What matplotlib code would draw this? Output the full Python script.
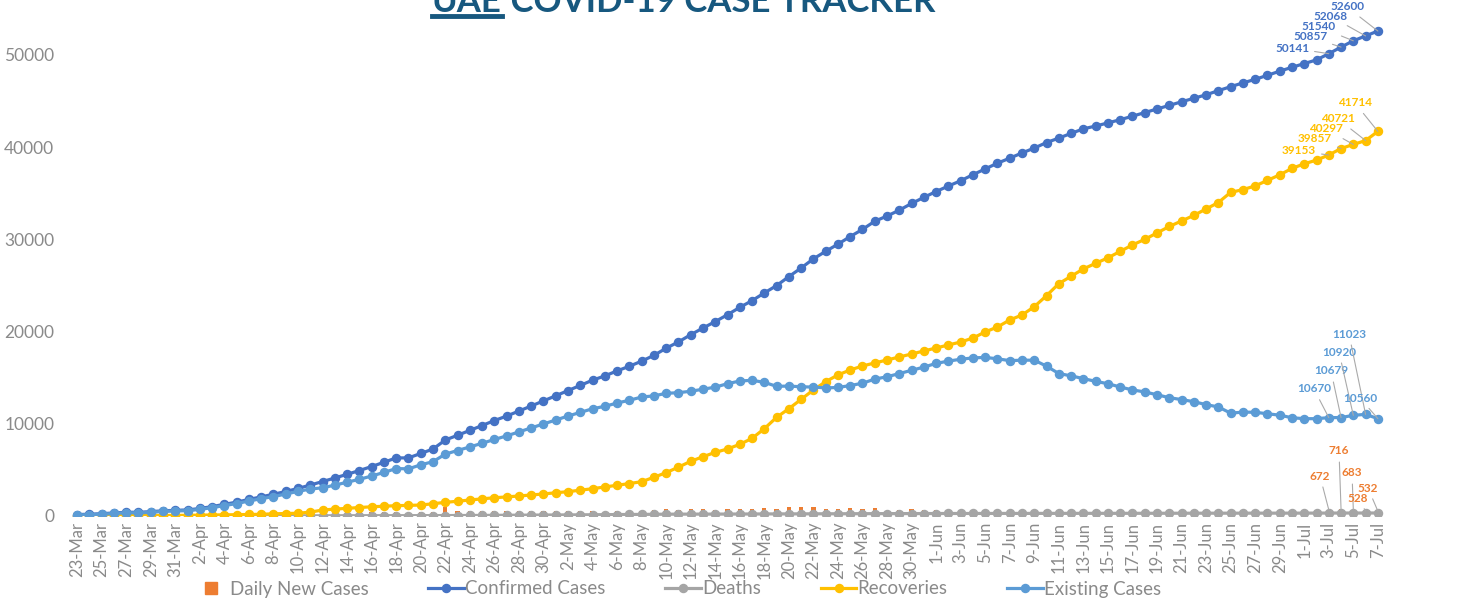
import numpy as np
import matplotlib
matplotlib.use("Agg")
import matplotlib.pyplot as plt
from matplotlib.lines import Line2D
from matplotlib.patches import Patch

plt.rcParams['font.family'] = ['Lato', 'DejaVu Sans']

# dates 23-Mar .. 7-Jul
months = ['Mar'] * 9 + ['Apr'] * 30 + ['May'] * 31 + ['Jun'] * 30 + ['Jul'] * 7
days = list(range(23, 32)) + list(range(1, 31)) + list(range(1, 32)) + list(range(1, 31)) + list(range(1, 8))
dates = [f"{d}-{m}" for d, m in zip(days, months)]

confirmed = [153, 198, 248, 333, 405, 405, 468, 570, 611,
             664, 814, 1024, 1264, 1505, 1799, 2076, 2359, 2659, 2990,
             3360, 3736, 4123, 4521, 4933, 5365, 5825, 6302, 6302, 6781,
             7265, 8238, 8756, 9281, 9813, 10349, 10839, 11380, 11929, 12481,
             13038, 13599, 14163, 14730, 15192, 15738, 16240, 16793, 17417, 18198,
             18878, 19661, 20386, 21084, 21831, 22627, 23358, 24190, 24990, 25963,
             26898, 27892, 28704, 29485, 30307, 31086, 31969, 32532, 33170, 33896, 34557,
             35192, 35788, 36359, 37018, 37642, 38268, 38808, 39376, 39904, 40507,
             40986, 41499, 41990, 42294, 42636, 42982, 43364, 43752, 44145, 44533,
             44925, 45303, 45683, 46133, 46563, 46973, 47360, 47797, 48246, 48667,
             49069, 49469, 50141, 50857, 51540, 52068, 52600]

daily_new = [0, 45, 50, 85, 72, 0, 63, 102, 41,
             53, 150, 210, 240, 241, 294, 277, 283, 300, 331,
             370, 376, 387, 398, 412, 432, 460, 477, 0, 479,
             484, 973, 518, 525, 532, 536, 490, 541, 549, 552,
             557, 561, 564, 567, 462, 546, 502, 553, 624, 781,
             680, 783, 725, 698, 747, 796, 731, 832, 800, 973,
             935, 994, 812, 781, 822, 779, 883, 563, 638, 726, 661,
             635, 596, 571, 659, 624, 626, 540, 568, 528, 603,
             479, 513, 491, 304, 342, 346, 382, 388, 393, 388,
             392, 378, 380, 450, 430, 410, 387, 437, 449, 421,
             402, 400, 672, 716, 683, 528, 532]

deaths = [2, 2, 2, 2, 2, 2, 3, 5, 5,
          6, 8, 8, 9, 10, 11, 12, 12, 14, 16,
          20, 23, 25, 28, 30, 33, 35, 37, 37, 41,
          43, 47, 52, 56, 64, 71, 82, 89, 98, 105,
          111, 119, 126, 137, 146, 157, 165, 174, 185, 196,
          201, 203, 206, 208, 210, 214, 220, 224, 227, 229,
          233, 237, 241, 244, 245, 253, 255, 258, 260, 262, 264,
          269, 273, 274, 275, 276, 278, 279, 281, 283, 284,
          286, 287, 288, 289, 289, 290, 291, 293, 295, 298,
          300, 302, 303, 305, 306, 307, 308, 309, 310, 311,
          312, 315, 318, 321, 323, 324, 326]

recoveries = [41, 52, 52, 58, 58, 61, 65, 65, 65,
              77, 96, 108, 125, 144, 167, 186, 239, 268, 300,
              420, 650, 750, 830, 920, 1000, 1060, 1120, 1150, 1190,
              1330, 1480, 1600, 1735, 1860, 1980, 2070, 2170, 2280, 2390,
              2520, 2640, 2800, 2960, 3150, 3330, 3520, 3720, 4200, 4700,
              5300, 5930, 6430, 6900, 7270, 7770, 8420, 9470, 10700, 11640,
              12650, 13670, 14570, 15300, 15840, 16270, 16600, 16920, 17250, 17570, 17900,
              18220, 18550, 18870, 19300, 19960, 20500, 21260, 21800, 22700, 23900,
              25200, 26000, 26800, 27400, 28000, 28700, 29400, 30000, 30700, 31400,
              32000, 32600, 33300, 34000, 35100, 35400, 35800, 36400, 37000, 37700,
              38200, 38600, 39153, 39857, 40297, 40721, 41714]

existing = [110, 144, 194, 273, 345, 342, 400, 500, 541,
            581, 710, 908, 1130, 1351, 1621, 1878, 2108, 2377, 2674,
            2920, 3063, 3348, 3663, 3983, 4332, 4730, 5145, 5115, 5550,
            5892, 6711, 7104, 7490, 7889, 8298, 8687, 9121, 9551, 9986,
            10407, 10840, 11237, 11633, 11896, 12251, 12555, 12899, 13032, 13302,
            13377, 13528, 13750, 13976, 14351, 14643, 14718, 14496, 14063, 14094,
            14015, 13985, 13893, 13941, 14150, 14400, 14850, 15100, 15450, 15800, 16150,
            16550, 16800, 17000, 17150, 17200, 17050, 16850, 16900, 16900, 16250,
            15450, 15200, 14902, 14605, 14347, 13992, 13673, 13459, 13150, 12835,
            12625, 12401, 12080, 11828, 11157, 11266, 11252, 11088, 10936, 10656,
            10557, 10554, 10670, 10679, 10920, 11023, 10560]

c_orange = '#ED7D31'
c_conf = '#4472C4'
c_death = '#A5A5A5'
c_rec = '#FFC000'
c_exist = '#5B9BD5'
c_text = '#8a8a8a'

x = np.arange(len(dates))

fig = plt.figure(figsize=(14.8, 6.03), dpi=100)
ax = fig.add_axes([71 / 1480, 87 / 603, 1313 / 1480, 516 / 603])

ax.bar(x, daily_new, width=0.35, color=c_orange, zorder=1)
lw, ms = 2.3, 5.8
ax.plot(x, confirmed, color=c_conf, lw=lw, marker='o', ms=ms, zorder=2)
ax.plot(x, deaths, color=c_death, lw=lw, marker='o', ms=ms, zorder=3)
ax.plot(x, recoveries, color=c_rec, lw=lw, marker='o', ms=ms, zorder=4)
ax.plot(x, existing, color=c_exist, lw=lw, marker='o', ms=ms, zorder=5)

ax.set_xlim(-0.5, len(dates) - 0.5)
ax.set_ylim(0, 55965)
ax.set_yticks(range(0, 50001, 10000))
ax.set_xticks(x[::2])
ax.set_xticklabels(dates[::2], rotation=90, fontsize=12, color=c_text)
ax.tick_params(axis='y', labelsize=12.5, labelcolor=c_text, length=0, pad=12)
ax.tick_params(axis='x', length=0, pad=4)
for s in ax.spines.values():
    s.set_visible(False)

# data labels on the last five days (label positions in figure pixels, from top)
lab_conf = [(1292, 48), (1310, 37), (1319, 27), (1330, 16), (1347, 7)]
lab_rec = [(1299, 151), (1315, 139), (1326, 129), (1338, 119), (1355, 103)]
lab_exist = [(1314, 389), (1331, 371), (1339, 352), (1349, 334), (1360, 398)]
lab_new = [(1320, 476), (1339, 451), (1352, 473), (1358, 498), (1368, 488)]

def labels(series, pos, color):
    for k, (px, py) in enumerate(pos):
        i = len(series) - 5 + k
        ax.annotate(str(series[i]), xy=(i, series[i]), xytext=(px, 603 - py),
                    textcoords='figure pixels', ha='center', va='center',
                    fontsize=8.5, fontweight='bold', color=color, zorder=10,
                    arrowprops=dict(arrowstyle='-', color='#aaaaaa', lw=0.8,
                                    shrinkA=2, shrinkB=0))

labels(confirmed, lab_conf, c_conf)
labels(recoveries, lab_rec, c_rec)
labels(existing, lab_exist, c_exist)
labels(daily_new, lab_new, c_orange)

handles = [Line2D([], [], ls='', marker='s', ms=9, color=c_orange),
           Line2D([], [], color=c_conf, lw=lw, marker='o', ms=ms),
           Line2D([], [], color=c_death, lw=lw, marker='o', ms=ms),
           Line2D([], [], color=c_rec, lw=lw, marker='o', ms=ms),
           Line2D([], [], color=c_exist, lw=lw, marker='o', ms=ms)]
names = ['Daily New Cases', 'Confirmed Cases', 'Deaths', 'Recoveries', 'Existing Cases']
fig.legend(handles, names, loc='center', bbox_to_anchor=(677 / 1480, 1 - 589 / 603),
           ncol=5, frameon=False, fontsize=13.5, labelcolor=c_text,
           handlelength=1.9, handletextpad=0.05, columnspacing=3.2)

# title, partly cut off at the top as in the original
tcol = '#17587F'
ty = 1 - 12 / 603
t1 = fig.text(432 / 1480, ty, 'UAE', fontsize=25, fontweight='bold', color=tcol,
              ha='left', va='baseline')
fig.canvas.draw()
bb = t1.get_window_extent()
fig.text(bb.x1 / 1480, ty, ' COVID-19 CASE TRACKER', fontsize=25, fontweight='bold',
         color=tcol, ha='left', va='baseline')
uy = (603 - 16) / 603
fig.add_artist(Line2D([bb.x0 / 1480, bb.x1 / 1480], [uy, uy], color=tcol, lw=3.5))

fig.savefig('out.png', dpi=100, facecolor='white')
